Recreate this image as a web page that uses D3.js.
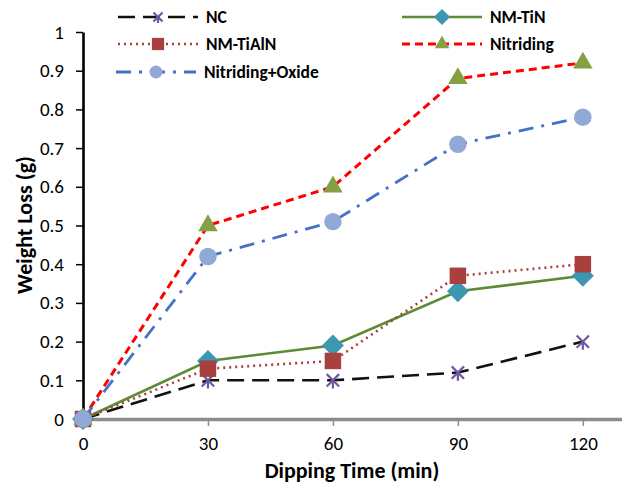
<!DOCTYPE html>
<html>
<head>
<meta charset="utf-8">
<script src="https://cdn.jsdelivr.net/npm/d3@7"></script>
<style>
  body { margin: 0; background: #fff; }
  text { font-family: Carlito, Calibri, Lato, sans-serif; }
</style>
</head>
<body>
<div id="chart"></div>
<script>
// data
var times = [0, 30, 60, 90, 120];
var seriesNames = ['NC', 'NM-TiN', 'NM-TiAlN', 'Nitriding', 'Nitriding+Oxide'];
var ncLoss = [0, 0.10, 0.10, 0.12, 0.20];
var tinLoss = [0, 0.15, 0.19, 0.33, 0.37];
var tialnLoss = [0, 0.13, 0.15, 0.37, 0.40];
var nitridingLoss = [0, 0.50, 0.60, 0.88, 0.92];
var oxideLoss = [0, 0.42, 0.51, 0.71, 0.78];
var yTicks = [0, 0.1, 0.2, 0.3, 0.4, 0.5, 0.6, 0.7, 0.8, 0.9, 1];
var xTicks = [0, 30, 60, 90, 120];

var w = 622, h = 483;

// excel style markers
var diamond = {
  draw: function(ctx, size) {
    var r = Math.sqrt(size / 2);
    ctx.moveTo(0, -r); ctx.lineTo(r, 0); ctx.lineTo(0, r); ctx.lineTo(-r, 0); ctx.closePath();
  }
};
var star = {
  draw: function(ctx, size) {
    var r = Math.sqrt(size) / 2, d = r * 0.75;
    ctx.moveTo(-d, -d); ctx.lineTo(d, d);
    ctx.moveTo(-d, d); ctx.lineTo(d, -d);
    ctx.moveTo(0, 0); ctx.lineTo(0, r);
  }
};

var styles = [
  { values: ncLoss, stroke: '#111', width: 2.6, dash: '17,8', sym: star, size: 270, fill: 'none', mstroke: '#6e58a0' },
  { values: tinLoss, stroke: '#5b8b35', width: 2.6, dash: null, sym: diamond, size: 240, fill: '#3d97b0', mstroke: 'none' },
  { values: tialnLoss, stroke: '#a8413d', width: 2.6, dash: '2,4', sym: d3.symbolSquare, size: 272, fill: '#a8413d', mstroke: 'none' },
  { values: nitridingLoss, stroke: '#ff0000', width: 3, dash: '8,5', sym: d3.symbolTriangle, size: 165, fill: '#84a043', mstroke: 'none' },
  { values: oxideLoss, stroke: '#4472c4', width: 2.8, dash: '15,8,3,8', sym: d3.symbolCircle, size: 240, fill: '#91a9d6', mstroke: 'none' }
];

var svg = d3.select('#chart').append('svg')
  .attr('width', w).attr('height', h);

var x = d3.scaleLinear().domain([0, 129.4]).range([83, 622]);
var y = d3.scaleLinear().domain([0, 1]).range([419, 32]);

// y axis
var yAxis = svg.append('g')
  .attr('transform', 'translate(' + x(0) + ',0)')
  .call(d3.axisLeft(y).tickValues(yTicks).tickSize(7).tickSizeOuter(0)
    .tickFormat(function(d) { return d3.format('~g')(d); }));
yAxis.select('.domain').attr('stroke', '#000').attr('stroke-width', 2.6);
yAxis.selectAll('.tick line').attr('stroke', '#000').attr('stroke-width', 1.5);
yAxis.selectAll('.tick text').attr('font-size', 19).attr('fill', '#000')
  .attr('x', -19).attr('font-family', 'Carlito, Calibri, Lato, sans-serif');

// x axis
var xAxis = svg.append('g')
  .attr('transform', 'translate(0,' + y(0) + ')')
  .call(d3.axisBottom(x).tickValues(xTicks).tickSize(7).tickSizeOuter(0));
xAxis.select('.domain').attr('stroke', '#8c8c8c').attr('stroke-width', 3.5);
xAxis.selectAll('.tick line').attr('stroke', '#8c8c8c').attr('stroke-width', 1.5);
xAxis.selectAll('.tick text').attr('font-size', 19).attr('fill', '#000')
  .attr('y', 18).attr('font-family', 'Carlito, Calibri, Lato, sans-serif');

// axis titles
svg.append('text')
  .attr('x', 352).attr('y', 478)
  .attr('text-anchor', 'middle')
  .attr('font-weight', 'bold').attr('font-size', 22)
  .text('Dipping Time (min)');
svg.append('text')
  .attr('transform', 'translate(32,225) rotate(-90)')
  .attr('text-anchor', 'middle')
  .attr('font-weight', 'bold').attr('font-size', 22)
  .text('Weight Loss (g)');

var line = d3.line()
  .x(function(d, i) { return x(times[i]); })
  .y(function(d) { return y(d); });

function marker(sel, s, scale) {
  sel.attr('d', d3.symbol().type(s.sym).size(s.size * scale))
    .attr('fill', s.fill)
    .attr('stroke', s.mstroke)
    .attr('stroke-width', s.mstroke == 'none' ? 0 : 2.2);
}

styles.forEach(function(s) {
  var g = svg.append('g');
  g.append('path')
    .attr('d', line(s.values))
    .attr('fill', 'none')
    .attr('stroke', s.stroke)
    .attr('stroke-width', s.width)
    .attr('stroke-dasharray', s.dash);
  g.selectAll('path.m')
    .data(s.values)
    .enter()
    .append('path')
    .attr('class', 'm')
    .attr('transform', function(d, i) {
      return 'translate(' + x(times[i]) + ',' + y(d) + ')';
    })
    .call(marker, s, 1);
});

// legend
var legendPos = [
  { x: 118, y: 17 }, { x: 402, y: 17 },
  { x: 118, y: 44 }, { x: 402, y: 44 },
  { x: 116, y: 72 }
];
var legend = svg.append('g');
styles.forEach(function(s, i) {
  var p = legendPos[i];
  var g = legend.append('g').attr('transform', 'translate(' + p.x + ',' + p.y + ')');
  g.append('line')
    .attr('x1', 0).attr('x2', 80)
    .attr('stroke', s.stroke)
    .attr('stroke-width', s.width)
    .attr('stroke-dasharray', s.dash);
  g.append('path')
    .attr('transform', 'translate(40,0)')
    .call(marker, s, 0.55);
  g.append('text')
    .attr('x', 88).attr('dy', '0.35em')
    .attr('font-weight', 'bold').attr('font-size', 17.5)
    .text(seriesNames[i]);
});
</script>
</body>
</html>
